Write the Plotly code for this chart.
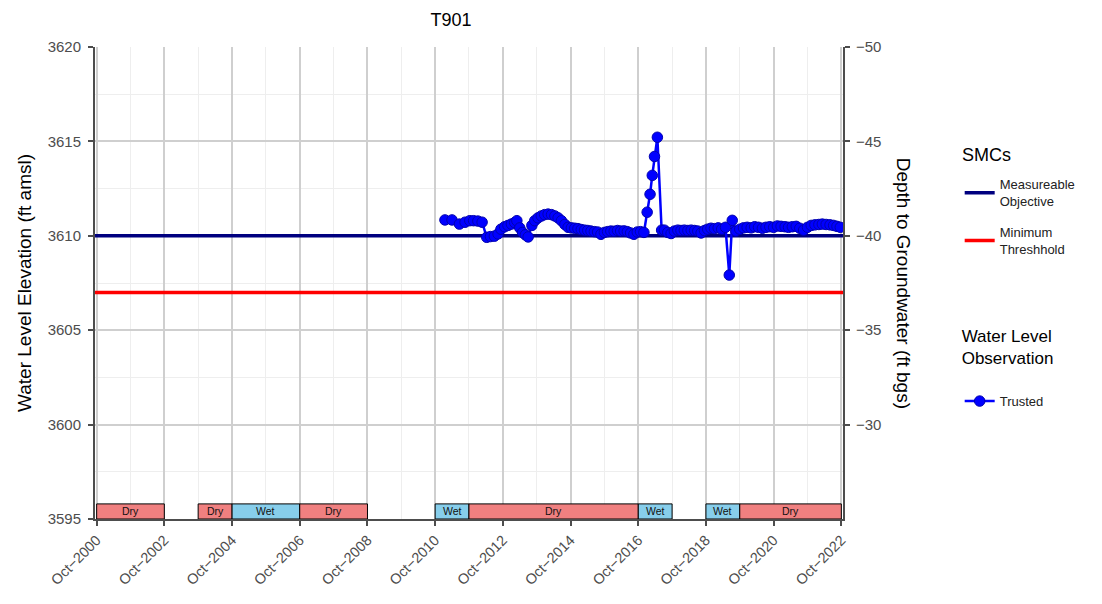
import pandas as pd
import plotly.graph_objects as go

# observed water levels, well T901 (ft amsl)
obs_dates = [
    "2011-01-15", "2011-04-01", "2011-06-20", "2011-08-20", "2011-10-10", "2011-11-20",
    "2012-01-05", "2012-02-20", "2012-04-10", "2012-05-20", "2012-07-01", "2012-08-10",
    "2012-09-10", "2012-10-20", "2012-11-25", "2013-01-01", "2013-02-05", "2013-03-01",
    "2013-04-01", "2013-05-01", "2013-06-01", "2013-07-01", "2013-08-10", "2013-09-10",
    "2013-10-15", "2013-11-20", "2013-12-25", "2014-02-01", "2014-03-10", "2014-04-15",
    "2014-05-20", "2014-06-25", "2014-08-01", "2014-09-05", "2014-10-10", "2014-11-15",
    "2014-12-20", "2015-01-25", "2015-03-01", "2015-04-05", "2015-05-10", "2015-06-15",
    "2015-07-20", "2015-08-25", "2015-10-01", "2015-11-05", "2015-12-10", "2016-01-15",
    "2016-02-20", "2016-03-25", "2016-05-01", "2016-06-05", "2016-07-10", "2016-08-15",
    "2016-09-20", "2016-10-25", "2016-12-01", "2017-01-05", "2017-02-05", "2017-03-01",
    "2017-03-25", "2017-04-25", "2017-06-10", "2017-07-10", "2017-08-15", "2017-09-20",
    "2017-10-25", "2017-12-01", "2018-01-05", "2018-02-10", "2018-03-20", "2018-04-25",
    "2018-06-01", "2018-07-05", "2018-08-10", "2018-09-15", "2018-10-20", "2018-11-25",
    "2019-01-01", "2019-02-10", "2019-03-20", "2019-04-30", "2019-06-10", "2019-07-12",
    "2019-08-20", "2019-10-01", "2019-11-10", "2019-12-20", "2020-02-01", "2020-03-10",
    "2020-04-20", "2020-06-01", "2020-07-10", "2020-08-20", "2020-10-01", "2020-11-10",
    "2020-12-20", "2021-02-01", "2021-03-10", "2021-04-20", "2021-06-01", "2021-07-10",
    "2021-08-20", "2021-10-01", "2021-11-10", "2021-12-20", "2022-02-01", "2022-03-10",
    "2022-04-20", "2022-06-01", "2022-07-10", "2022-08-15", "2022-09-20",
]
obs_elev = [
    3610.84, 3610.84, 3610.62, 3610.72, 3610.80, 3610.80,
    3610.78, 3610.72, 3609.92, 3609.96, 3609.98, 3610.10,
    3610.35, 3610.48, 3610.55, 3610.62, 3610.70, 3610.80,
    3610.42, 3610.18, 3610.05, 3609.94, 3610.55, 3610.80,
    3610.95, 3611.05, 3611.12, 3611.15, 3611.12, 3611.05,
    3610.95, 3610.80, 3610.60, 3610.45, 3610.42, 3610.40,
    3610.38, 3610.33, 3610.30, 3610.28, 3610.25, 3610.22,
    3610.20, 3610.08, 3610.18, 3610.22, 3610.25, 3610.24,
    3610.28, 3610.25, 3610.26, 3610.22, 3610.15, 3610.08,
    3610.20, 3610.22, 3610.18, 3611.25, 3612.20, 3613.20,
    3614.20, 3615.22, 3610.30, 3610.30, 3610.18, 3610.12,
    3610.25, 3610.30, 3610.28, 3610.30, 3610.28, 3610.30,
    3610.28, 3610.25, 3610.15, 3610.28, 3610.35, 3610.40,
    3610.38, 3610.42, 3610.35, 3610.45, 3607.92, 3610.82,
    3610.25, 3610.35, 3610.42, 3610.45, 3610.42, 3610.48,
    3610.45, 3610.40, 3610.45, 3610.48, 3610.45, 3610.52,
    3610.50, 3610.48, 3610.45, 3610.48, 3610.50, 3610.40,
    3610.30, 3610.45, 3610.55, 3610.58, 3610.60, 3610.62,
    3610.60, 3610.58, 3610.55, 3610.50, 3610.45,
]

# sustainable management criteria
measurable_objective = 3610.0
minimum_threshold = 3607.0

# water year types
wy_start = ["2000-10-01", "2003-10-01", "2004-10-01", "2006-10-01", "2010-10-01",
            "2011-10-01", "2016-10-01", "2018-10-01", "2019-10-01"]
wy_end = ["2002-10-01", "2004-10-01", "2006-10-01", "2008-10-01", "2011-10-01",
          "2016-10-01", "2017-10-01", "2019-10-01", "2022-10-01"]
wy_type = ["Dry", "Dry", "Wet", "Dry", "Wet", "Dry", "Wet", "Wet", "Dry"]

tick_years = list(range(2000, 2023, 2))
x_range = ["2000-09-13", "2022-10-19"]
y_range = [3595, 3620]
depth_offset = 3570  # depth label = -(elev - offset)

FONT = "Liberation Sans, Arial, sans-serif"
GREY = "#4D4D4D"

fig = go.Figure()

fig.add_trace(go.Scatter(
    x=x_range, y=[measurable_objective] * 2, mode="lines",
    line=dict(color="#00007F", width=3.5),
    name="Measureable<br>Objective", legend="legend", legendgroup="mo",
))
fig.add_trace(go.Scatter(
    x=x_range, y=[minimum_threshold] * 2, mode="lines",
    line=dict(color="#FF0000", width=3.5),
    name="Minimum<br>Threshhold", legend="legend", legendgroup="mt",
))
fig.add_trace(go.Scatter(
    x=obs_dates, y=obs_elev, mode="lines+markers",
    line=dict(color="#0000FF", width=2.5),
    marker=dict(color="#0000FF", size=10.5, line=dict(color="#0000B0", width=1)),
    name="Trusted", legend="legend2",
))
# invisible trace to carry the depth axis
fig.add_trace(go.Scatter(
    x=x_range, y=[-(v - depth_offset) for v in y_range], yaxis="y2",
    mode="lines", line=dict(width=0), hoverinfo="skip", showlegend=False,
))

# wet / dry bars along the bottom
colors = {"Dry": "#F08080", "Wet": "#87CEEB"}
for s, e, t in zip(wy_start, wy_end, wy_type):
    fig.add_shape(type="rect", xref="x", yref="y", x0=s, x1=e, y0=3595.0, y1=3595.8,
                  fillcolor=colors[t], line=dict(color="black", width=1), layer="above")
    mid = pd.Timestamp(s) + (pd.Timestamp(e) - pd.Timestamp(s)) / 2
    fig.add_annotation(x=mid, y=3595.4, xref="x", yref="y", text=t, showarrow=False,
                       font=dict(size=10.5, color="#111111", family=FONT))

fig.add_annotation(
    text="Depth to Groundwater (ft bgs)", textangle=90, showarrow=False,
    xref="paper", yref="paper", x=1.082, y=0.5, xanchor="center", yanchor="middle",
    font=dict(size=19, color="black", family=FONT),
)
# title of the SMC legend
fig.add_annotation(
    text="SMCs", showarrow=False, xref="paper", yref="paper",
    x=1.156, y=0.771, xanchor="left", yanchor="middle",
    font=dict(size=18, color="black", family=FONT),
)

fig.update_layout(
    width=1094, height=596,
    paper_bgcolor="white", plot_bgcolor="white",
    margin=dict(l=87, r=259, t=39, b=85),
    font=dict(family=FONT, color=GREY, size=15),
    title=dict(text="T901", xref="container", yref="container", x=0.405, y=0.981,
               xanchor="center", yanchor="middle",
               font=dict(size=18, color="black", family=FONT)),
    xaxis=dict(
        type="date", range=x_range,
        tickvals=[f"{y}-10-01" for y in tick_years],
        ticktext=[f"Oct\u2212{y}" for y in tick_years],
        tickangle=-45, tickfont=dict(size=14.5, color=GREY),
        ticks="outside", ticklen=5, tickwidth=2, tickcolor=GREY,
        showline=True, linecolor=GREY, linewidth=2,
        showgrid=True, gridcolor="#CFCFCF", gridwidth=2,
        minor=dict(tickvals=[f"{y + 1}-10-01" for y in tick_years[:-1]],
                   showgrid=True, gridcolor="#EEEEEE", gridwidth=1, ticks=""),
        zeroline=False,
    ),
    yaxis=dict(
        range=y_range, tickvals=[3595, 3600, 3605, 3610, 3615, 3620],
        tickfont=dict(size=15, color=GREY), ticklabelstandoff=4,
        ticks="outside", ticklen=5, tickwidth=2, tickcolor=GREY,
        showline=True, linecolor=GREY, linewidth=2,
        showgrid=True, gridcolor="#CFCFCF", gridwidth=2,
        minor=dict(tickvals=[3597.5, 3602.5, 3607.5, 3612.5, 3617.5],
                   showgrid=True, gridcolor="#EEEEEE", gridwidth=1, ticks=""),
        title=dict(text="Water Level Elevation (ft amsl)", standoff=11,
                   font=dict(size=19, color="black", family=FONT)),
        zeroline=False,
    ),
    yaxis2=dict(
        overlaying="y", side="right",
        range=[-(y_range[0] - depth_offset), -(y_range[1] - depth_offset)],
        tickvals=[-50, -45, -40, -35, -30],
        tickfont=dict(size=15, color=GREY), ticklabelstandoff=3,
        ticks="outside", ticklen=5, tickwidth=2, tickcolor=GREY,
        showline=True, linecolor=GREY, linewidth=2,
        showgrid=False, zeroline=False,
    ),
    legend=dict(
        x=1.156, y=0.741, xanchor="left", yanchor="top",
        font=dict(size=13, color="#222222", family=FONT),
        bgcolor="rgba(0,0,0,0)", itemwidth=30, tracegroupgap=11,
    ),
    legend2=dict(
        title=dict(text="Water Level<br>Observation<br>", font=dict(size=17, color="black", family=FONT)),
        x=1.156, y=0.422, xanchor="left", yanchor="top",
        font=dict(size=13, color="#222222", family=FONT),
        bgcolor="rgba(0,0,0,0)", itemwidth=30,
    ),
    showlegend=True,
)

fig.write_html("out.html")
